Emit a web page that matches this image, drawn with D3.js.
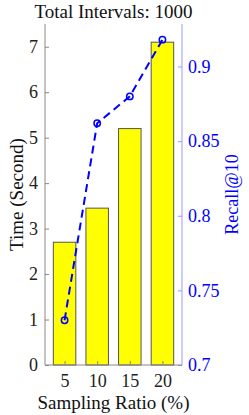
<!DOCTYPE html>
<html>
<head>
<meta charset="utf-8">
<script src="https://cdn.jsdelivr.net/npm/d3@7"></script>
<style>
	body { margin: 0; background: #fff; }
	svg text { font-family: "Liberation Serif", "DejaVu Serif", serif; }
</style>
</head>
<body>
<svg id="chart" width="249" height="415"></svg>
<script>
// data
var ratios = [5, 10, 15, 20];
var times = [2.7, 3.45, 5.2, 7.1];
var recalls = [0.73, 0.862, 0.88, 0.918];
var leftTicks = [0, 1, 2, 3, 4, 5, 6, 7];
var rightTicks = [0.7, 0.75, 0.8, 0.85, 0.9];

(function() {
	var svg = d3.select("#chart");
	var L = 45, R = 182, T = 24, B = 365;

	var x = d3.scaleLinear().domain([2, 23]).range([L, R]);
	var yL = d3.scaleLinear().domain([0, 7.5]).range([B, T]);
	var yR = d3.scaleLinear().domain([0.7, 0.9285]).range([B, T]);
	var barW = x(5 + 3.45) - x(5);

	// bars
	svg.selectAll("rect.bar")
		.data(ratios)
		.enter().append("rect")
		.attr("class", "bar")
		.attr("x", function(d) { return x(d) - barW / 2; })
		.attr("y", function(d, i) { return yL(times[i]); })
		.attr("width", barW)
		.attr("height", function(d, i) { return B - yL(times[i]); })
		.style("fill", "#ffff00")
		.style("stroke", "#555")
		.style("stroke-width", 1);

	// left axis
	var gl = svg.append("g").attr("transform", "translate(" + L + ",0)")
		.call(d3.axisLeft(yL).tickValues(leftTicks).tickSize(-4).tickPadding(7).tickFormat(d3.format("d")));
	gl.select(".domain").attr("stroke", "#888").attr("d", "M0," + T + "V" + B);
	gl.selectAll(".tick line").attr("stroke", "#888");
	gl.selectAll("text").style("font-size", "18px").attr("fill", "#222");

	// right axis
	var gr = svg.append("g").attr("transform", "translate(" + R + ",0)")
		.call(d3.axisRight(yR).tickValues(rightTicks).tickSize(-4).tickPadding(6).tickFormat(d3.format("")));
	gr.select(".domain").attr("stroke", "#9999ff").attr("d", "M0," + T + "V" + B);
	gr.selectAll(".tick line").attr("stroke", "#9999ff");
	gr.selectAll("text").style("font-size", "18px").attr("fill", "#0000ff");

	// bottom axis
	var gb = svg.append("g").attr("transform", "translate(0," + B + ")")
		.call(d3.axisBottom(x).tickValues(ratios).tickSize(-4).tickPadding(9));
	gb.select(".domain").attr("stroke", "#888").attr("d", "M" + L + ",0H" + R);
	gb.selectAll(".tick line").attr("stroke", "#888");
	gb.selectAll("text").style("font-size", "18px").attr("fill", "#222");

	// recall line
	var line = d3.line()
		.x(function(d, i) { return x(ratios[i]); })
		.y(function(d) { return yR(d); });
	svg.append("path")
		.datum(recalls)
		.attr("d", line)
		.style("fill", "none")
		.style("stroke", "#0000ff")
		.style("stroke-width", 2)
		.style("stroke-dasharray", "8,5");
	svg.selectAll("circle.pt")
		.data(recalls)
		.enter().append("circle")
		.attr("class", "pt")
		.attr("cx", function(d, i) { return x(ratios[i]); })
		.attr("cy", function(d) { return yR(d); })
		.attr("r", 3.2)
		.style("fill", "none")
		.style("stroke", "#0000ff")
		.style("stroke-width", 1.5);

	// labels
	svg.append("text")
		.attr("x", (L + R) / 2).attr("y", 18)
		.attr("text-anchor", "middle")
		.style("font-size", "19px").attr("fill", "#111")
		.text("Total Intervals: 1000");
	svg.append("text")
		.attr("x", (L + R) / 2).attr("y", 409)
		.attr("text-anchor", "middle")
		.style("font-size", "19px").attr("fill", "#111")
		.text("Sampling Ratio (%)");
	svg.append("text")
		.attr("transform", "translate(23," + (T + B) / 2 + ") rotate(-90)")
		.attr("text-anchor", "middle")
		.style("font-size", "19px").attr("fill", "#111")
		.text("Time (Second)");
	svg.append("text")
		.attr("transform", "translate(238," + (T + B) / 2 + ") rotate(-90)")
		.attr("text-anchor", "middle")
		.style("font-size", "18px").attr("fill", "#0000ff")
		.text("Recall@10");
})();
</script>
</body>
</html>
